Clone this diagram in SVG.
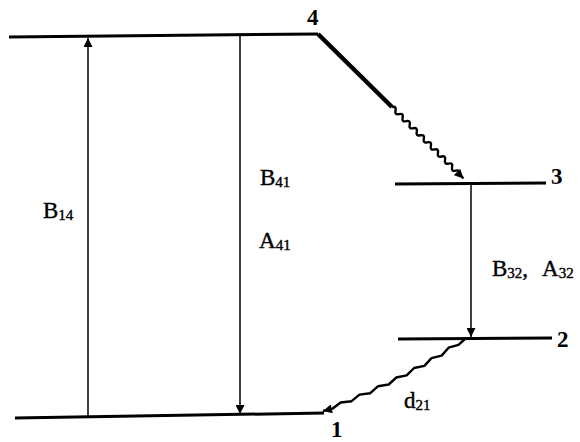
<svg xmlns="http://www.w3.org/2000/svg" width="580" height="442" viewBox="0 0 580 442">
<style>
.lvl{stroke:#000;stroke-width:3;fill:none;stroke-linecap:butt}
.arr{stroke:#000;stroke-width:1.5;fill:none}
.wav{stroke:#000;stroke-width:2.4;fill:none;stroke-linejoin:round}
.lbl{font-family:"Liberation Serif","Times New Roman",serif;font-size:23px;fill:#000;stroke:#000;stroke-width:0.4}
.num{font-family:"Liberation Serif","Times New Roman",serif;font-size:23px;font-weight:bold;fill:#000}
.sub{font-size:15px}
</style>
<defs>
<marker id="ah" viewBox="0 0 10 10" refX="10" refY="5" markerWidth="10" markerHeight="9" markerUnits="userSpaceOnUse" orient="auto">
<path d="M0,0 L10,5 L0,10 Z" fill="#000"/>
</marker>
</defs>
<g id="level4"><line class="lvl" x1="9" y1="37" x2="318" y2="34"/><text class="num" x="307" y="25">4</text></g>
<g id="level3"><line class="lvl" x1="395" y1="184" x2="546" y2="183"/><text class="num" x="551" y="184">3</text></g>
<g id="level2"><line class="lvl" x1="398" y1="339" x2="552" y2="338"/><text class="num" x="557" y="347">2</text></g>
<g id="level1"><line class="lvl" x1="15" y1="418" x2="324" y2="413"/><text class="num" x="331" y="437">1</text></g>
<g id="connectors">
<line class="arr" x1="88" y1="417" x2="88" y2="38" marker-end="url(#ah)"/>
<line class="arr" x1="240" y1="36" x2="240" y2="414" marker-end="url(#ah)"/>
<line class="arr" x1="471" y1="185" x2="471" y2="337" marker-end="url(#ah)"/>
<line x1="318" y1="34" x2="392" y2="107" stroke="#000" stroke-width="4.5"/>
<g transform="translate(392,107) rotate(45)">
<path class="wav" d="M0,0 q2.5,-4 5,0 t5,0 t5,0 t5,0 t5,0 t5,0 t5,0 t5,0 t5,0 t5,0 t5,0 t5,0 t5,0 t5,0 t5,0 t5,0 t5,0 t5,0 t5,0 l6,0" marker-end="url(#ah)"/>
</g>
<polyline class="wav" points="466,338 458.5,344.9 448.6,347.7 441.6,355.6 431.5,358.1 424.4,365.9 414.1,368 406.6,375.4 396.3,377.5 388.7,384.5 378.1,386.2 370.3,393.2 359.5,394.6 351.6,401.2 340.6,402.5 332.4,408.7 323,411" marker-end="url(#ah)"/>
</g>
<g id="labels">
<text class="lbl" x="43" y="218">B<tspan class="sub" dy="2">14</tspan></text>
<text class="lbl" x="260" y="185">B<tspan class="sub" dy="2">41</tspan></text>
<text class="lbl" x="259" y="248">A<tspan class="sub" dy="2">41</tspan></text>
<text class="lbl" x="492" y="276">B<tspan class="sub" dy="2">32</tspan><tspan dy="-2">,</tspan></text>
<text class="lbl" x="542" y="276">A<tspan class="sub" dy="2">32</tspan></text>
<text class="lbl" x="404" y="408">d<tspan class="sub" dy="2">21</tspan></text>
</g>
</svg>
